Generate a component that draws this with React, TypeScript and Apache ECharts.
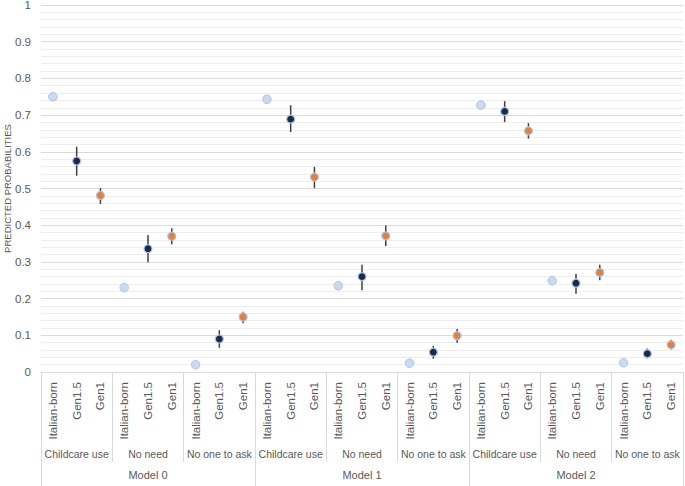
import React, { useEffect, useRef } from "react";
import * as echarts from "echarts";

const models = ["Model 0", "Model 1", "Model 2"];
const outcomes = ["Childcare use", "No need", "No one to ask"];
const generations = ["Italian-born", "Gen1.5", "Gen1"];

const italianBorn = [0.75, 0.23, 0.02, 0.743, 0.235, 0.024, 0.727, 0.249, 0.025];
const gen15 = [0.575, 0.336, 0.09, 0.689, 0.26, 0.054, 0.71, 0.242, 0.05];
const gen15Low = [0.535, 0.299, 0.066, 0.654, 0.223, 0.036, 0.681, 0.213, 0.037];
const gen15High = [0.614, 0.373, 0.114, 0.727, 0.292, 0.071, 0.738, 0.267, 0.064];
const gen1 = [0.481, 0.37, 0.15, 0.531, 0.371, 0.099, 0.657, 0.271, 0.074];
const gen1Low = [0.458, 0.348, 0.133, 0.501, 0.343, 0.08, 0.636, 0.25, 0.062];
const gen1High = [0.501, 0.392, 0.164, 0.559, 0.399, 0.117, 0.678, 0.292, 0.088];

const yTicks = { min: 0, max: 1, interval: 0.1 };

const FONT = "'Liberation Sans', Arial, sans-serif";
const TEXT = "#595959";
const GRID = "#d9d9d9";

export default function App() {
  const ref = useRef<HTMLDivElement>(null);

  useEffect(() => {
    document.body.style.margin = "0";
    if (!ref.current) return;
    const chart = echarts.init(ref.current, null, { renderer: "svg" });

    const categories = models.flatMap(() => outcomes.flatMap(() => generations));
    const groupLabels = models.flatMap(() => outcomes);

    const italianData = italianBorn.map((v, g) => [g * 3, v]);
    const gen15Data = gen15.map((v, g) => [g * 3 + 1, v]);
    const gen1Data = gen1.map((v, g) => [g * 3 + 2, v]);
    const err15 = gen15.map((_, g) => [g * 3 + 1, gen15Low[g], gen15High[g]]);
    const err1 = gen1.map((_, g) => [g * 3 + 2, gen1Low[g], gen1High[g]]);

    const errRender = (params: any, api: any) => {
      const x = api.value(0);
      const lo = api.coord([x, api.value(1)]);
      const hi = api.coord([x, api.value(2)]);
      return {
        type: "line",
        shape: { x1: lo[0], y1: lo[1], x2: hi[0], y2: hi[1] },
        style: { stroke: "#404040", lineWidth: 1.5 },
      };
    };

    const option: any = {
      animation: false,
      textStyle: { fontFamily: FONT },
      grid: {
        left: 41,
        right: 2,
        top: 5,
        bottom: 114,
        containLabel: false,
        outerBoundsMode: "none",
      },
      xAxis: [
        {
          type: "category",
          data: categories,
          position: "bottom",
          boundaryGap: true,
          axisLine: { show: true, lineStyle: { color: GRID, width: 1 } },
          axisTick: { show: false },
          axisLabel: {
            interval: 0,
            rotate: 90,
            margin: 10,
            fontSize: 11.5,
            color: TEXT,
            fontFamily: FONT,
          },
          splitLine: { show: false },
        },
        {
          type: "category",
          data: groupLabels,
          position: "bottom",
          offset: 0,
          boundaryGap: true,
          axisLine: { show: false },
          axisTick: {
            show: true,
            interval: (i: number) => i % 3 !== 0,
            length: 90,
            lineStyle: { color: GRID },
          },
          axisLabel: { interval: 0, margin: 76, fontSize: 10.5, color: TEXT, fontFamily: FONT },
          splitLine: { show: false },
        },
        {
          type: "category",
          data: models,
          position: "bottom",
          offset: 0,
          boundaryGap: true,
          axisLine: { show: false },
          axisTick: { show: true, interval: 0, length: 114, lineStyle: { color: GRID } },
          axisLabel: { interval: 0, margin: 97, fontSize: 11, color: TEXT, fontFamily: FONT },
          splitLine: { show: false },
        },
      ],
      yAxis: {
        type: "value",
        min: yTicks.min,
        max: yTicks.max,
        interval: yTicks.interval,
        name: "PREDICTED PROBABILITIES",
        nameLocation: "middle",
        nameRotate: 90,
        nameGap: 29,
        nameMoveOverlap: false,
        nameTextStyle: { fontSize: 9.5, color: TEXT, fontFamily: FONT },
        axisLine: { show: false },
        axisTick: { show: false },
        axisLabel: {
          margin: 10,
          fontSize: 11.5,
          color: TEXT,
          fontFamily: FONT,
          formatter: (v: number) => String(+v.toFixed(1)),
        },
        splitLine: { show: true, lineStyle: { color: GRID, width: 1 } },
        minorTick: { show: false, splitNumber: 5 },
        minorSplitLine: { show: true, lineStyle: { color: "#ededed", width: 1 } },
      },
      series: [
        {
          type: "custom",
          name: "Gen1.5 CI",
          xAxisIndex: 0,
          yAxisIndex: 0,
          renderItem: errRender,
          encode: { x: 0, y: [1, 2] },
          data: err15,
          z: 2,
        },
        {
          type: "custom",
          name: "Gen1 CI",
          xAxisIndex: 0,
          yAxisIndex: 0,
          renderItem: errRender,
          encode: { x: 0, y: [1, 2] },
          data: err1,
          z: 2,
        },
        {
          type: "scatter",
          name: "Italian-born",
          xAxisIndex: 0,
          symbolSize: 8.5,
          itemStyle: { color: "#c9dbf2", borderColor: "#a6c3ea", borderWidth: 1, opacity: 1 },
          data: italianData,
          z: 3,
        },
        {
          type: "scatter",
          name: "Gen1.5",
          xAxisIndex: 0,
          symbolSize: 8,
          itemStyle: { color: "#1a2a48", borderColor: "#a6c3ea", borderWidth: 1.2, opacity: 1 },
          data: gen15Data,
          z: 3,
        },
        {
          type: "scatter",
          name: "Gen1",
          xAxisIndex: 0,
          symbolSize: 8,
          itemStyle: { color: "#ed7d31", borderColor: "#a6c3ea", borderWidth: 1.2, opacity: 1 },
          data: gen1Data,
          z: 3,
        },
      ],
    };

    chart.setOption(option);
    return () => chart.dispose();
  }, []);

  return <div ref={ref} style={{ width: 685, height: 486, background: "#fff" }} />;
}
